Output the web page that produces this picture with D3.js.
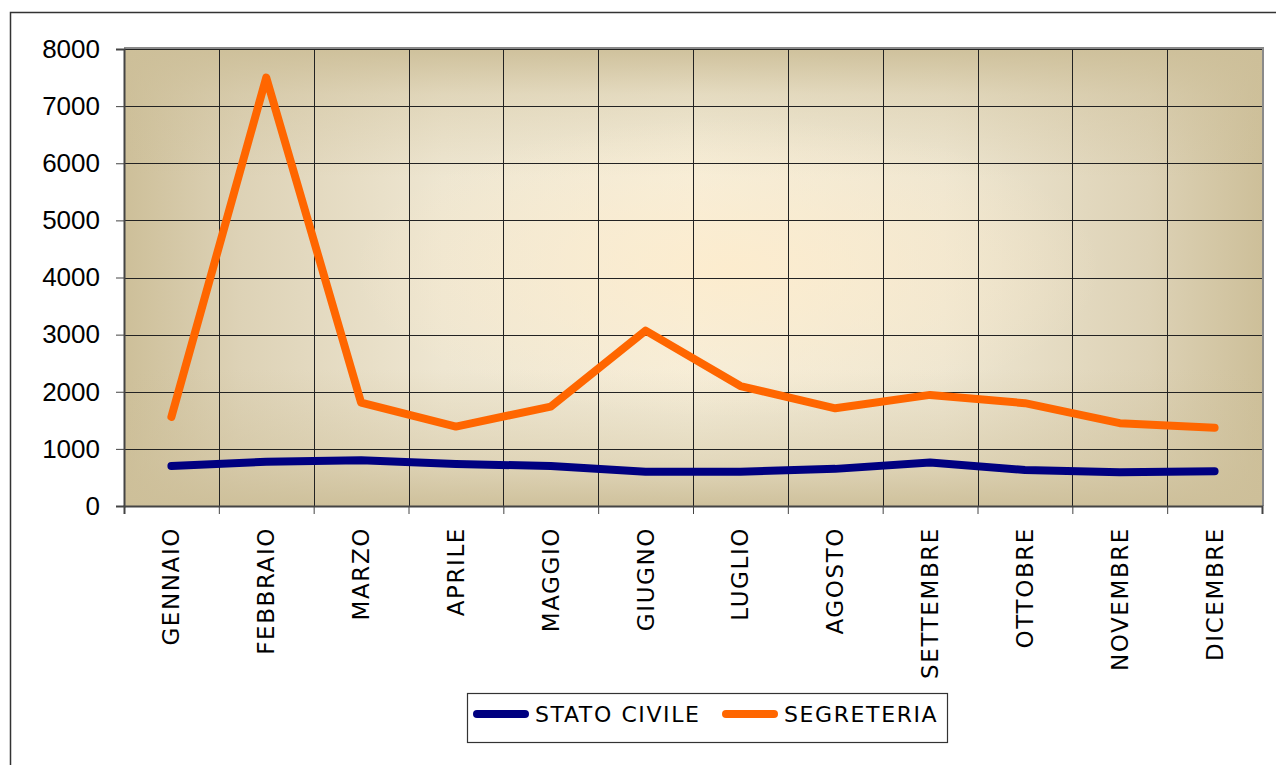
<!DOCTYPE html>
<html>
<head>
<meta charset="utf-8">
<script src="https://cdn.jsdelivr.net/npm/d3@7"></script>
<style>
  body { margin: 0; background: #fff; }
  svg { display: block; }
</style>
</head>
<body>
<div id="chart"></div>
<script>
// Data
const months = ['GENNAIO', 'FEBBRAIO', 'MARZO', 'APRILE', 'MAGGIO', 'GIUGNO',
  'LUGLIO', 'AGOSTO', 'SETTEMBRE', 'OTTOBRE', 'NOVEMBRE', 'DICEMBRE']
const statoCivile = [700, 775, 800, 735, 700, 600, 600, 650, 760, 630, 590, 610]
const segreteria = [1560, 7500, 1810, 1390, 1740, 3070, 2100, 1710, 1945, 1800, 1450, 1370]
const yTicks = [0, 1000, 2000, 3000, 4000, 5000, 6000, 7000, 8000]
const seriesNames = ['STATO CIVILE', 'SEGRETERIA']
const seriesColors = ['#000080', '#ff6600']

const width = 1276
const height = 765
const plot = { left: 124, right: 1262, top: 49, bottom: 506 }
const labelFont = '"Comic Sans MS", "DejaVu Sans", sans-serif'

const svg = d3.select('#chart')
  .append('svg')
  .attr('width', width)
  .attr('height', height)

// outer frame
svg.append('rect')
  .attr('x', 10.5).attr('y', 12.5)
  .attr('width', 1400).attr('height', 900)
  .attr('fill', 'none')
  .attr('stroke', '#333')
  .attr('stroke-width', 1.5)

// scales
const xScale = d3.scaleBand()
  .domain(months)
  .range([plot.left, plot.right])
const xEdge = d3.scaleLinear()
  .domain([0, months.length])
  .range([plot.left, plot.right])
const yScale = d3.scaleLinear()
  .domain([0, 8000])
  .range([plot.bottom, plot.top])

// background: rectangular "from centre" gradient built from layers
const tan = '#cdbf99'
const defs = svg.append('defs')
const gH = defs.append('linearGradient').attr('id', 'bgH')
  .attr('x1', 0).attr('x2', 1).attr('y1', 0).attr('y2', 0)
;[[0, tan, 1], [0.1, '#ddd2b6', 1], [0.28, '#eee6d1', 1], [0.5, '#f5eedb', 1],
  [0.72, '#eee6d1', 1], [0.9, '#ddd2b6', 1], [1, tan, 1]]
  .forEach(s => gH.append('stop').attr('offset', s[0]).attr('stop-color', s[1]).attr('stop-opacity', s[2]))
const gV = defs.append('linearGradient').attr('id', 'bgV')
  .attr('x1', 0).attr('x2', 0).attr('y1', 0).attr('y2', 1)
;[[0, tan, 0.95], [0.1, tan, 0.4], [0.28, tan, 0], [0.7, tan, 0], [0.9, tan, 0.45], [1, tan, 0.95]]
  .forEach(s => gV.append('stop').attr('offset', s[0]).attr('stop-color', s[1]).attr('stop-opacity', s[2]))
const gC = defs.append('radialGradient').attr('id', 'bgC')
  .attr('cx', 0.53).attr('cy', 0.48).attr('r', 0.33)
gC.append('stop').attr('offset', 0).attr('stop-color', '#fdeccd').attr('stop-opacity', 0.9)
gC.append('stop').attr('offset', 1).attr('stop-color', '#fdeccd').attr('stop-opacity', 0)

// plot shadow border (top/right)
svg.append('rect')
  .attr('x', plot.left).attr('y', plot.top - 2)
  .attr('width', plot.right - plot.left + 2)
  .attr('height', plot.bottom - plot.top + 2)
  .attr('fill', '#8a8a8a')
;['bgH', 'bgV', 'bgC'].forEach(id => {
  svg.append('rect')
    .attr('x', plot.left).attr('y', plot.top)
    .attr('width', plot.right - plot.left)
    .attr('height', plot.bottom - plot.top)
    .attr('fill', `url(#${id})`)
})

// grid
svg.append('g')
  .selectAll('line')
  .data(yTicks.slice(1))
  .join('line')
  .attr('x1', plot.left).attr('x2', plot.right)
  .attr('y1', d => Math.round(yScale(d)) + 0.5)
  .attr('y2', d => Math.round(yScale(d)) + 0.5)
  .attr('stroke', '#222')
  .attr('stroke-width', 1)

svg.append('g')
  .selectAll('line')
  .data(d3.range(1, months.length))
  .join('line')
  .attr('x1', d => Math.round(xEdge(d)) + 0.5)
  .attr('x2', d => Math.round(xEdge(d)) + 0.5)
  .attr('y1', plot.top).attr('y2', plot.bottom)
  .attr('stroke', '#222')
  .attr('stroke-width', 1)

// axes
const yAxis = d3.axisLeft(yScale)
  .tickValues(yTicks)
  .tickSize(8)
  .tickPadding(16)
  .tickFormat(d3.format('d'))
const yAxisGroup = svg.append('g')
  .attr('transform', `translate(${plot.left}, 0)`)
  .call(yAxis)
yAxisGroup.select('.domain').attr('stroke', '#444').attr('stroke-width', 2)
yAxisGroup.selectAll('.tick line').attr('stroke', '#444')
yAxisGroup.selectAll('text')
  .attr('fill', '#000')
  .style('font-family', '"Liberation Sans", Arial, sans-serif')
  .style('font-size', '26px')

const xAxis = d3.axisBottom(xEdge)
  .tickValues(d3.range(months.length + 1))
  .tickSize(8)
  .tickFormat('')
const xAxisGroup = svg.append('g')
  .attr('transform', `translate(0, ${plot.bottom})`)
  .call(xAxis)
xAxisGroup.select('.domain').attr('stroke', '#444').attr('stroke-width', 2)
xAxisGroup.selectAll('.tick line').attr('stroke', '#444')

// month labels
svg.append('g')
  .selectAll('text')
  .data(months)
  .join('text')
  .attr('transform', d => `translate(${xScale(d) + xScale.bandwidth() / 2}, 527) rotate(-90)`)
  .attr('text-anchor', 'end')
  .attr('dy', '0.35em')
  .style('font-family', labelFont)
  .style('font-size', '23px')
  .style('letter-spacing', '1.6px')
  .text(d => d)

// lines
const line = d3.line()
  .x((d, i) => xScale(months[i]) + xScale.bandwidth() / 2)
  .y(d => yScale(d))

svg.append('g')
  .selectAll('path')
  .data([statoCivile, segreteria])
  .join('path')
  .attr('d', line)
  .attr('fill', 'none')
  .attr('stroke', (d, i) => seriesColors[i])
  .attr('stroke-width', 8)
  .attr('stroke-linejoin', 'round')
  .attr('stroke-linecap', 'round')

// legend
const legend = svg.append('g')
legend.append('rect')
  .attr('x', 467.5).attr('y', 693.5)
  .attr('width', 480).attr('height', 49)
  .attr('fill', '#fff')
  .attr('stroke', '#333')
  .attr('stroke-width', 1.2)

const legendX = [477, 726]
const items = legend.selectAll('g')
  .data(seriesNames)
  .join('g')
  .attr('transform', (d, i) => `translate(${legendX[i]}, 714)`)
items.append('line')
  .attr('x1', 0).attr('x2', 48)
  .attr('stroke', (d, i) => seriesColors[i])
  .attr('stroke-width', 8)
  .attr('stroke-linecap', 'round')
items.append('text')
  .attr('x', 58)
  .attr('dy', '0.38em')
  .style('font-family', labelFont)
  .style('font-size', '22px')
  .style('letter-spacing', '1.6px')
  .text(d => d)
</script>
</body>
</html>
